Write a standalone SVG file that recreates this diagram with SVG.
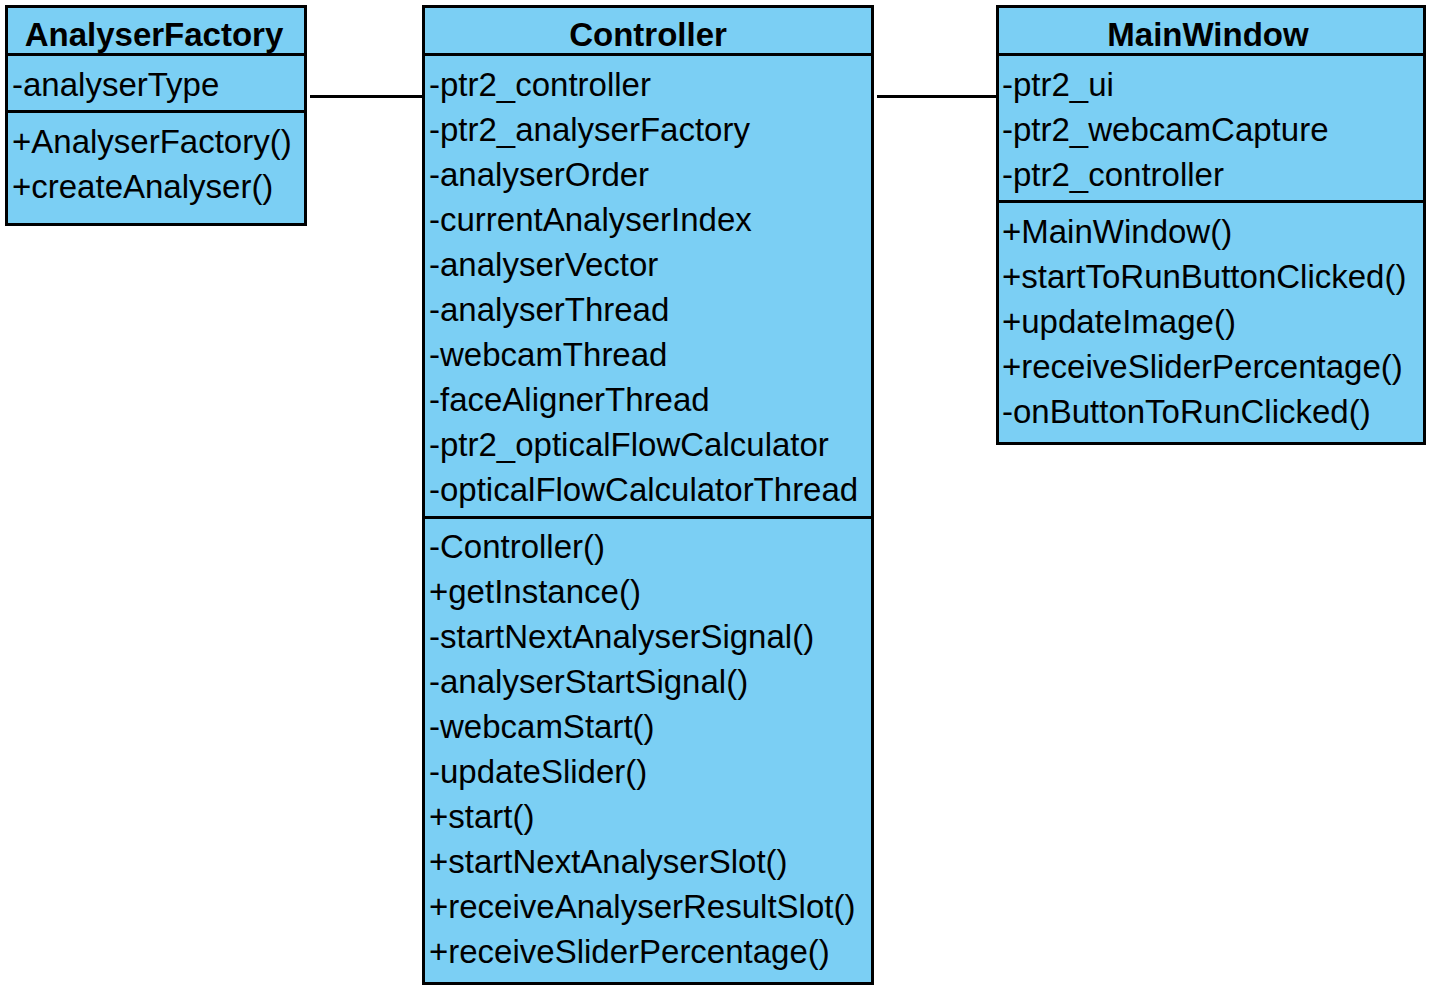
<svg xmlns="http://www.w3.org/2000/svg" width="1434" height="996" viewBox="0 0 1434 996">
<style>
.box{fill:#7BCFF4;stroke:#000;stroke-width:3}
.div{stroke:#000;stroke-width:3}
.t{font-size:33px;fill:#000}
.h{font-size:33px;font-weight:bold;fill:#000;text-anchor:middle}
.c{stroke:#000;stroke-width:3;fill:none}
</style>
<rect width="1434" height="996" fill="#fff"/>
<g id="connectors">
<line class="c" x1="310" y1="96.5" x2="423" y2="96.5"/>
<line class="c" x1="877" y1="96.5" x2="996" y2="96.5"/>
</g>
<g font-family="Arial, 'Liberation Sans', Helvetica, sans-serif">
<g id="AnalyserFactory">
<rect class="box" x="6.5" y="6.5" width="299" height="218"/>
<line class="div" x1="6.5" y1="54.5" x2="305.5" y2="54.5"/>
<line class="div" x1="6.5" y1="111.5" x2="305.5" y2="111.5"/>
<text class="h" x="154" y="46">AnalyserFactory</text>
<text class="t" x="12" y="96">-analyserType</text>
<text class="t" x="12" y="153">+AnalyserFactory()</text>
<text class="t" x="12" y="198">+createAnalyser()</text>
</g>
<g id="Controller">
<rect class="box" x="423.5" y="6.5" width="449" height="977"/>
<line class="div" x1="423.5" y1="54.5" x2="872.5" y2="54.5"/>
<line class="div" x1="423.5" y1="517.5" x2="872.5" y2="517.5"/>
<text class="h" x="648" y="46">Controller</text>
<text class="t" x="429" y="96">-ptr2_controller</text>
<text class="t" x="429" y="141">-ptr2_analyserFactory</text>
<text class="t" x="429" y="186">-analyserOrder</text>
<text class="t" x="429" y="231">-currentAnalyserIndex</text>
<text class="t" x="429" y="276">-analyserVector</text>
<text class="t" x="429" y="321">-analyserThread</text>
<text class="t" x="429" y="366">-webcamThread</text>
<text class="t" x="429" y="411">-faceAlignerThread</text>
<text class="t" x="429" y="456">-ptr2_opticalFlowCalculator</text>
<text class="t" x="429" y="501">-opticalFlowCalculatorThread</text>
<text class="t" x="429" y="558">-Controller()</text>
<text class="t" x="429" y="603">+getInstance()</text>
<text class="t" x="429" y="648">-startNextAnalyserSignal()</text>
<text class="t" x="429" y="693">-analyserStartSignal()</text>
<text class="t" x="429" y="738">-webcamStart()</text>
<text class="t" x="429" y="783">-updateSlider()</text>
<text class="t" x="429" y="828">+start()</text>
<text class="t" x="429" y="873">+startNextAnalyserSlot()</text>
<text class="t" x="429" y="918">+receiveAnalyserResultSlot()</text>
<text class="t" x="429" y="963">+receiveSliderPercentage()</text>
</g>
<g id="MainWindow">
<rect class="box" x="997.5" y="6.5" width="427" height="437"/>
<line class="div" x1="997.5" y1="54.5" x2="1424.5" y2="54.5"/>
<line class="div" x1="997.5" y1="201.5" x2="1424.5" y2="201.5"/>
<text class="h" x="1208" y="46">MainWindow</text>
<text class="t" x="1002" y="96">-ptr2_ui</text>
<text class="t" x="1002" y="141">-ptr2_webcamCapture</text>
<text class="t" x="1002" y="186">-ptr2_controller</text>
<text class="t" x="1002" y="243">+MainWindow()</text>
<text class="t" x="1002" y="288">+startToRunButtonClicked()</text>
<text class="t" x="1002" y="333">+updateImage()</text>
<text class="t" x="1002" y="378">+receiveSliderPercentage()</text>
<text class="t" x="1002" y="423">-onButtonToRunClicked()</text>
</g>
</g>
</svg>
